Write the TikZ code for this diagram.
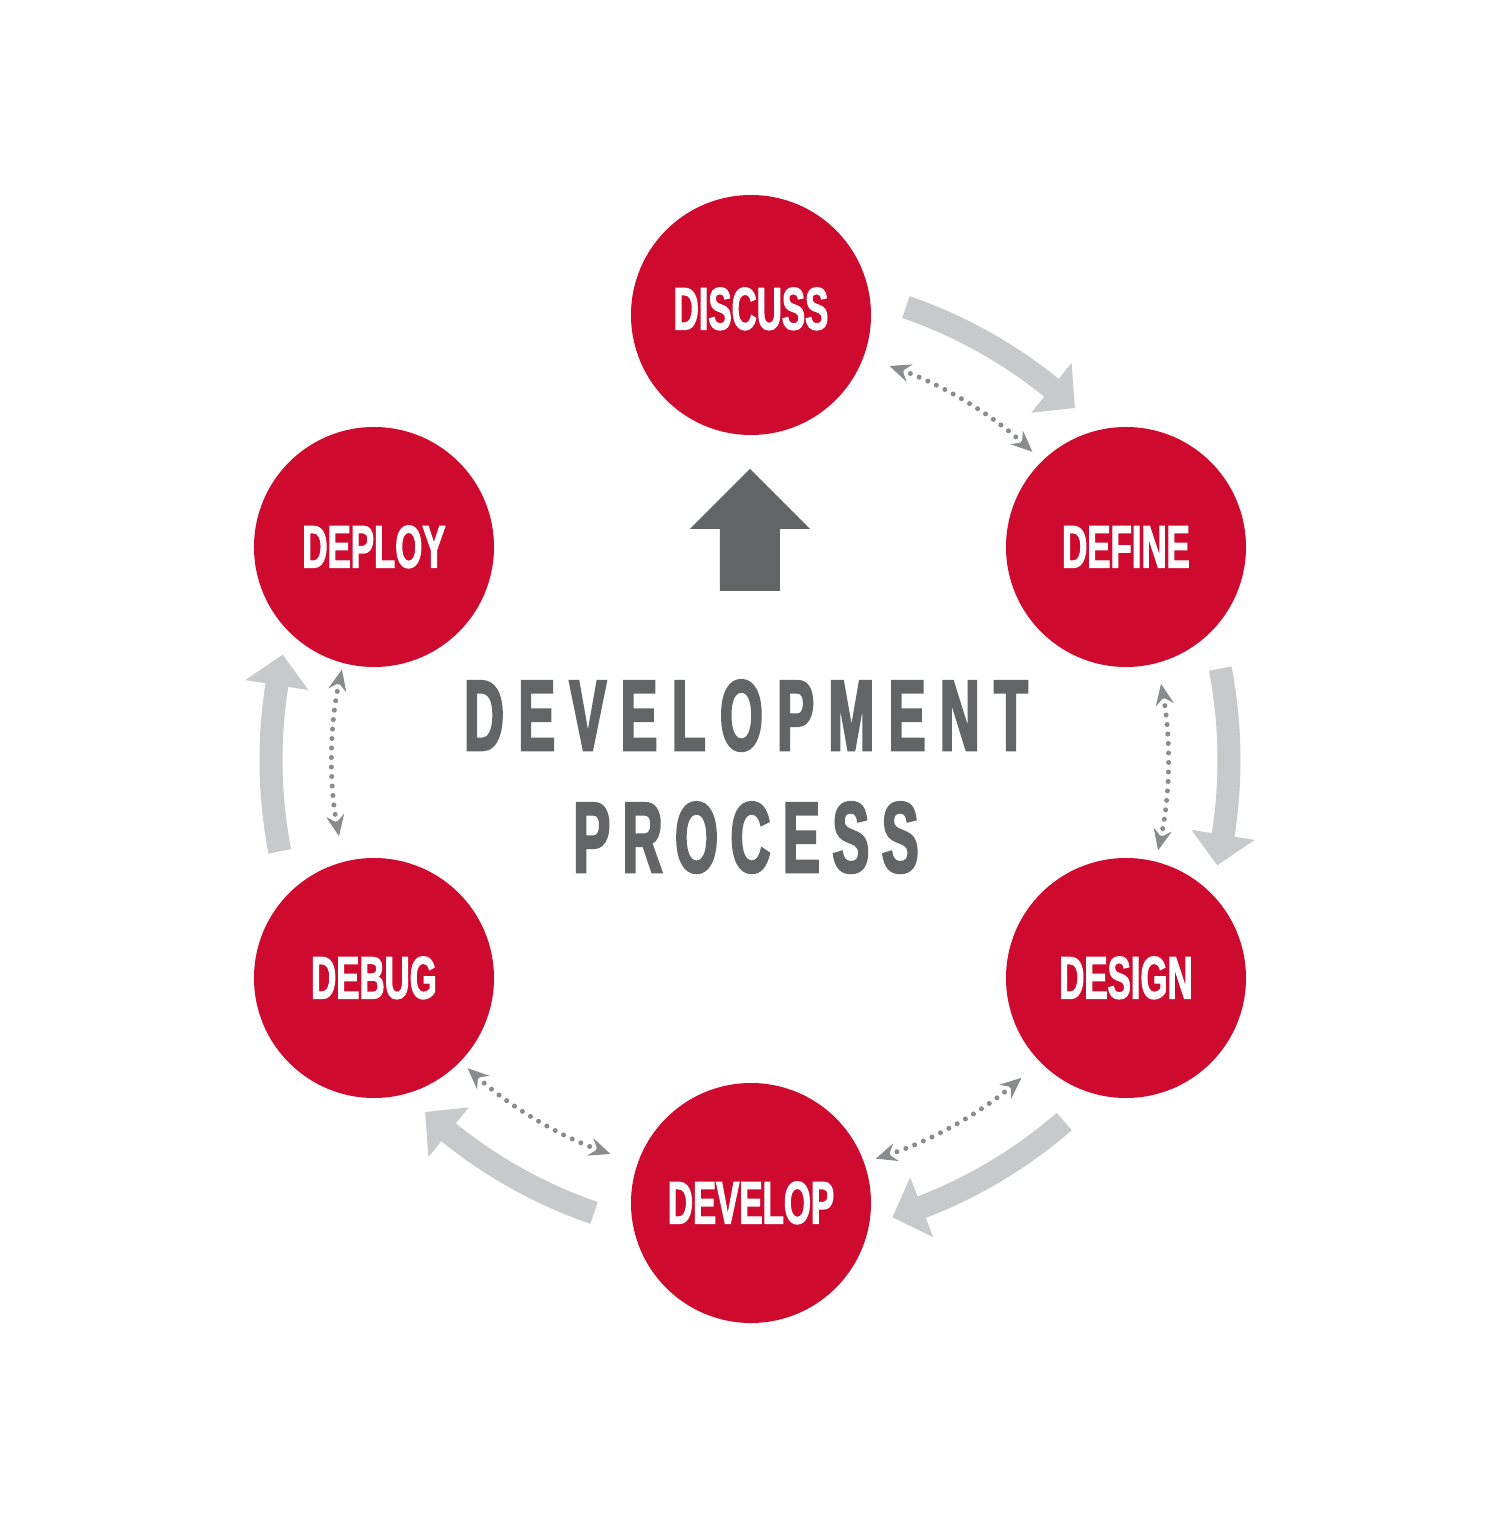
\documentclass[tikz,border=0pt]{standalone}
\usepackage{fontspec}
\usetikzlibrary{arrows.meta}
\newfontfamily\labelfont[FakeStretch=0.58,FakeBold=1.8]{Liberation Sans}
\newfontfamily\titlefont[FakeStretch=0.55,FakeBold=2.5,LetterSpace=14.5]{Liberation Sans}
\newfontfamily\titlefontb[FakeStretch=0.55,FakeBold=2.5,LetterSpace=12.7]{Liberation Sans}
\definecolor{cred}{HTML}{CE0B2E}
\definecolor{dgray}{HTML}{636466}
\definecolor{lgray}{HTML}{C8C9CB}
\definecolor{dotgray}{HTML}{8A8B8D}
\tikzset{
  stage/.style={circle, fill=cred, minimum size=240pt, inner sep=0pt,
    text=white, font=\labelfont\bfseries\fontsize{60pt}{60pt}\selectfont,
    text height=43pt, text depth=2pt},
  titletext/.style={text=dgray, inner sep=0pt, anchor=base},
  flowarrow/.style={fill=lgray},
  dotarrow/.style={draw=dotgray, line width=5pt, line cap=round, dash pattern=on 0pt off 9.5pt,
    {Stealth[length=21pt,width=18pt,inset=7pt,fill=dotgray]}-{Stealth[length=21pt,width=18pt,inset=7pt,fill=dotgray]}},
}
\begin{document}
\begin{tikzpicture}[x=1pt,y=1pt]
\useasboundingbox (-750,-758) rectangle (750,760);
\fill[white] (-750,-758) rectangle (750,760);
% gray flow arrows
\foreach \c in {59,-1,-61,-121,179}{
  \fill[flowarrow] ({\c+12}:490.5) arc[start angle={\c+12}, end angle={\c-8}, radius=490.5]
    -- ({\c-8}:511) -- ({\c-11.7}:479) -- ({\c-8}:447) -- ({\c-8}:467.5)
    arc[start angle={\c-8}, end angle={\c+12}, radius=467.5] -- cycle;
}
% dotted double arrows
\foreach \c in {59,-1,-61,-121,179}{
  \draw[dotarrow] ({\c+11.5}:418) arc[start angle={\c+11.5}, end angle={\c-11.5}, radius=418];
}
% stages
\node[stage, text depth=14pt] (discuss) at (1,445) {DISCUSS};
\node[stage] (define) at (376,213) {DEFINE};
\node[stage] (design) at (376,-218) {DESIGN};
\node[stage] (develop) at (1,-443) {DEVELOP};
\node[stage] (debug) at (-376,-218) {DEBUG};
\node[stage] (deploy) at (-376,213) {DEPLOY};
% up arrow
\fill[dgray] (0,291) -- (60,231) -- (30,231) -- (30,169) -- (-30,169) -- (-30,231) -- (-60,231) -- cycle;
% title
\node[titletext, font=\titlefont\bfseries\fontsize{100pt}{100pt}\selectfont] (t1) at (-4,10) {DEVELOPMENT};
\node[titletext, font=\titlefontb\bfseries\fontsize{100pt}{100pt}\selectfont] (t2) at (-4,-112) {PROCESS};
\end{tikzpicture}
\end{document}
